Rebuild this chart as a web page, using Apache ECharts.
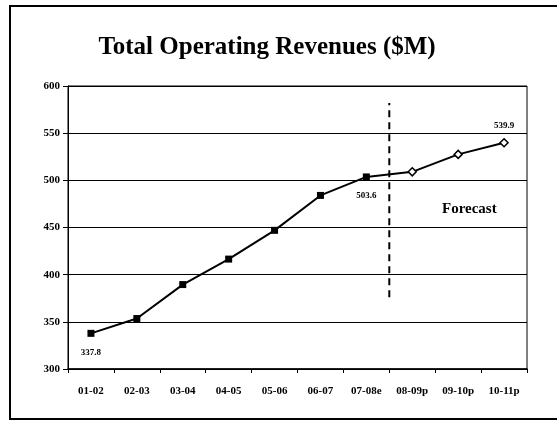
<!DOCTYPE html>
<html>
<head>
<meta charset="utf-8">
<script src="https://cdn.jsdelivr.net/npm/echarts@6/dist/echarts.min.js"></script>
<style>
  html, body { margin: 0; padding: 0; background: #fff; }
  #box { width: 557px; height: 421px; }
</style>
</head>
<body>
<div id="box"></div>
<script>
// data
var years = ['01-02', '02-03', '03-04', '04-05', '05-06', '06-07', '07-08e', '08-09p', '09-10p', '10-11p'];
var revenue = [337.8, 353.5, 389.5, 416.5, 447, 484, 503.6, 509, 527.5, 539.9];
var isForecast = [false, false, false, false, false, false, false, true, true, true];
var shownLabels = ['337.8', '', '', '', '', '', '503.6', '', '', '539.9'];
var yTicks = { min: 300, max: 600, step: 50 };
var splitAt = 7;            // forecast starts after this many categories
var splitSpan = [376, 582]; // dashed divider, bottom/top value

var serif = '"Liberation Serif", "DejaVu Serif", serif';

var myChart = echarts.init(document.getElementById('box'));

var points = [];
for (var i = 0; i < revenue.length; i++) {
    var p = { value: revenue[i] };
    if (isForecast[i]) {
        p.symbol = 'diamond';
        p.symbolSize = 8;
        p.itemStyle = { color: '#fff', borderColor: '#000', borderWidth: 1.5 };
    }
    if (shownLabels[i]) {
        var last = i == revenue.length - 1;
        p.label = {
            show: true,
            formatter: shownLabels[i],
            position: last ? 'top' : 'bottom',
            distance: last ? 8 : 11
        };
    }
    points.push(p);
}

option = {
    animation: false,
    backgroundColor: '#fff',
    title: {
        text: 'Total Operating Revenues ($M)',
        left: 262,
        textAlign: 'center',
        top: 30,
        textStyle: { fontFamily: serif, fontSize: 25, fontWeight: 'bold', color: '#000' }
    },
    grid: {
        left: 68,
        right: 30,
        top: 86,
        bottom: 52,
        show: true,
        borderColor: '#000',
        borderWidth: 1
    },
    xAxis: [{
        type: 'category',
        data: years,
        boundaryGap: true,
        axisLine: { lineStyle: { color: '#000', width: 1.5 } },
        axisTick: { show: true, length: 4, inside: false, lineStyle: { color: '#000' } },
        axisLabel: {
            interval: 0,
            margin: 17,
            fontFamily: serif, fontSize: 11, fontWeight: 'bold', color: '#000'
        }
    }, {
        // helper axis for the divider line
        type: 'value',
        min: 0,
        max: years.length,
        show: false
    }],
    yAxis: {
        type: 'value',
        min: yTicks.min,
        max: yTicks.max,
        interval: yTicks.step,
        axisLine: { show: true, lineStyle: { color: '#000', width: 1 } },
        axisTick: { show: true, length: 5, lineStyle: { color: '#000' } },
        splitLine: { lineStyle: { color: '#000', width: 1.2 } },
        axisLabel: {
            margin: 8,
            fontFamily: serif, fontSize: 11, fontWeight: 'bold', color: '#000'
        }
    },
    series: [
        {
            name: 'Revenue',
            type: 'line',
            data: points,
            symbol: 'rect',
            symbolSize: 7,
            color: '#000',
            lineStyle: { color: '#000', width: 2 },
            itemStyle: { color: '#000' },
            label: { fontFamily: serif, fontSize: 9, fontWeight: 'bold', color: '#000' },
            z: 5
        },
        {
            name: 'divider',
            type: 'line',
            xAxisIndex: 1,
            data: [[splitAt, splitSpan[0]], [splitAt, splitSpan[1]]],
            symbol: 'none',
            lineStyle: { color: '#000', width: 2, type: [7, 5] },
            z: 4
        }
    ],
    graphic: [
        {
            type: 'rect',
            shape: { x: 10, y: 6, width: 600, height: 413 },
            style: { fill: 'none', stroke: '#000', lineWidth: 2 },
            silent: true
        },
        {
            type: 'text',
            left: 442,
            top: 202,
            style: {
                text: 'Forecast',
                font: 'bold 15px ' + serif,
                fill: '#000'
            }
        }
    ]
};

myChart.setOption(option);
</script>
</body>
</html>
